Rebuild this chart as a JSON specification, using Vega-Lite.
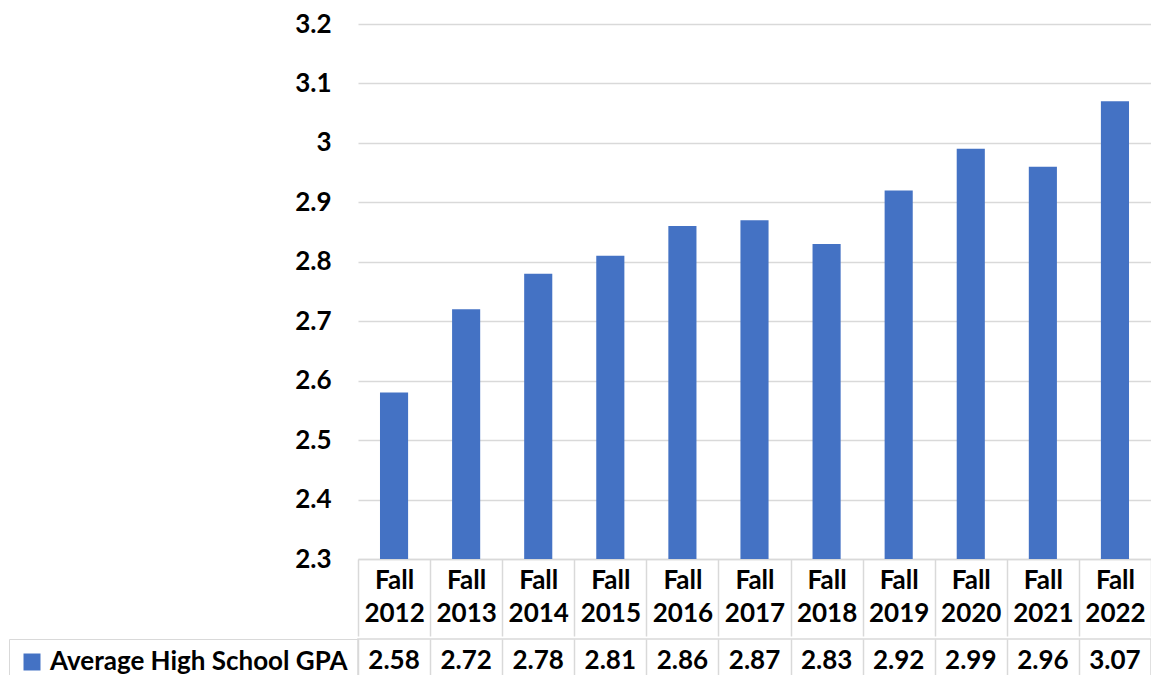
{
  "$schema": "https://vega.github.io/schema/vega-lite/v6.json",
  "padding": {"left": 7, "top": 11, "right": 0, "bottom": 0},
  "background": "white",
  "datasets": {
    "gpa": [
      {"term": "Fall 2012", "gpa": 2.58, "series": "Average High School GPA"},
      {"term": "Fall 2013", "gpa": 2.72, "series": "Average High School GPA"},
      {"term": "Fall 2014", "gpa": 2.78, "series": "Average High School GPA"},
      {"term": "Fall 2015", "gpa": 2.81, "series": "Average High School GPA"},
      {"term": "Fall 2016", "gpa": 2.86, "series": "Average High School GPA"},
      {"term": "Fall 2017", "gpa": 2.87, "series": "Average High School GPA"},
      {"term": "Fall 2018", "gpa": 2.83, "series": "Average High School GPA"},
      {"term": "Fall 2019", "gpa": 2.92, "series": "Average High School GPA"},
      {"term": "Fall 2020", "gpa": 2.99, "series": "Average High School GPA"},
      {"term": "Fall 2021", "gpa": 2.96, "series": "Average High School GPA"},
      {"term": "Fall 2022", "gpa": 3.07, "series": "Average High School GPA"}
    ]
  },
  "spacing": 0,
  "resolve": {"legend": {"color": "independent"}},
  "config": {
    "font": "Lato",
    "view": {"stroke": null},
    "axis": {
      "labelFont": "Lato",
      "labelFontSize": 26,
      "labelFontWeight": "bold",
      "labelColor": "#000000",
      "title": null
    }
  },
  "vconcat": [
    {
      "width": 793,
      "height": 535,
      "data": {"name": "gpa"},
      "mark": {"type": "bar", "color": "#4472c4", "width": {"band": 0.39}},
      "encoding": {
        "x": {
          "field": "term",
          "type": "nominal",
          "sort": null,
          "scale": {"paddingInner": 0, "paddingOuter": 0},
          "axis": {
            "orient": "bottom",
            "labelAngle": 0,
            "labelExpr": "split(datum.label, ' ')",
            "labelLineHeight": 33,
            "labelBaseline": "top",
            "labelPadding": -69,
            "tickBand": "extent",
            "tickSize": 77,
            "tickColor": "#d9d9d9",
            "tickWidth": 1.5,
            "domainColor": "#d9d9d9",
            "domainWidth": 1.5,
            "grid": false
          }
        },
        "y": {
          "field": "gpa",
          "type": "quantitative",
          "scale": {"domain": [2.3, 3.2], "zero": false, "nice": false},
          "axis": {
            "values": [2.3, 2.4, 2.5, 2.6, 2.7, 2.8, 2.9, 3.0, 3.1, 3.2],
            "format": ".2~f",
            "grid": true,
            "gridColor": "#d9d9d9",
            "gridWidth": 1.5,
            "domain": false,
            "ticks": false,
            "labelPadding": 27
          }
        },
        "y2": {"datum": 2.3}
      }
    },
    {
      "width": 793,
      "height": 44,
      "data": {"name": "gpa"},
      "view": {"stroke": "#d9d9d9", "strokeWidth": 1.5},
      "encoding": {
        "x": {
          "field": "term",
          "type": "nominal",
          "sort": null,
          "scale": {"paddingInner": 0, "paddingOuter": 0},
          "axis": {
            "labels": false,
            "ticks": false,
            "domain": false,
            "grid": true,
            "tickBand": "extent",
            "gridColor": "#d9d9d9",
            "gridWidth": 1.5
          }
        }
      },
      "layer": [
        {
          "mark": {"type": "text", "font": "Lato", "fontSize": 26, "fontWeight": "bold", "color": "#000000", "baseline": "middle"},
          "encoding": {
            "text": {"field": "gpa", "type": "quantitative", "format": ".2f"}
          }
        },
        {
          "mark": {"type": "square", "size": 0, "opacity": 0},
          "encoding": {
            "color": {
              "field": "series",
              "type": "nominal",
              "scale": {"range": ["#4472c4"]},
              "legend": {
                "orient": "left",
                "offset": 0,
                "title": null,
                "symbolType": "square",
                "symbolSize": 289,
                "symbolOpacity": 1,
                "symbolStrokeWidth": 0,
                "labelFont": "Lato",
                "labelFontSize": 26,
                "labelFontWeight": "bold",
                "labelColor": "#000000",
                "labelOffset": 5,
                "labelLimit": 0,
                "padding": 10,
                "strokeColor": "#d9d9d9"
              }
            }
          }
        }
      ]
    }
  ]
}
